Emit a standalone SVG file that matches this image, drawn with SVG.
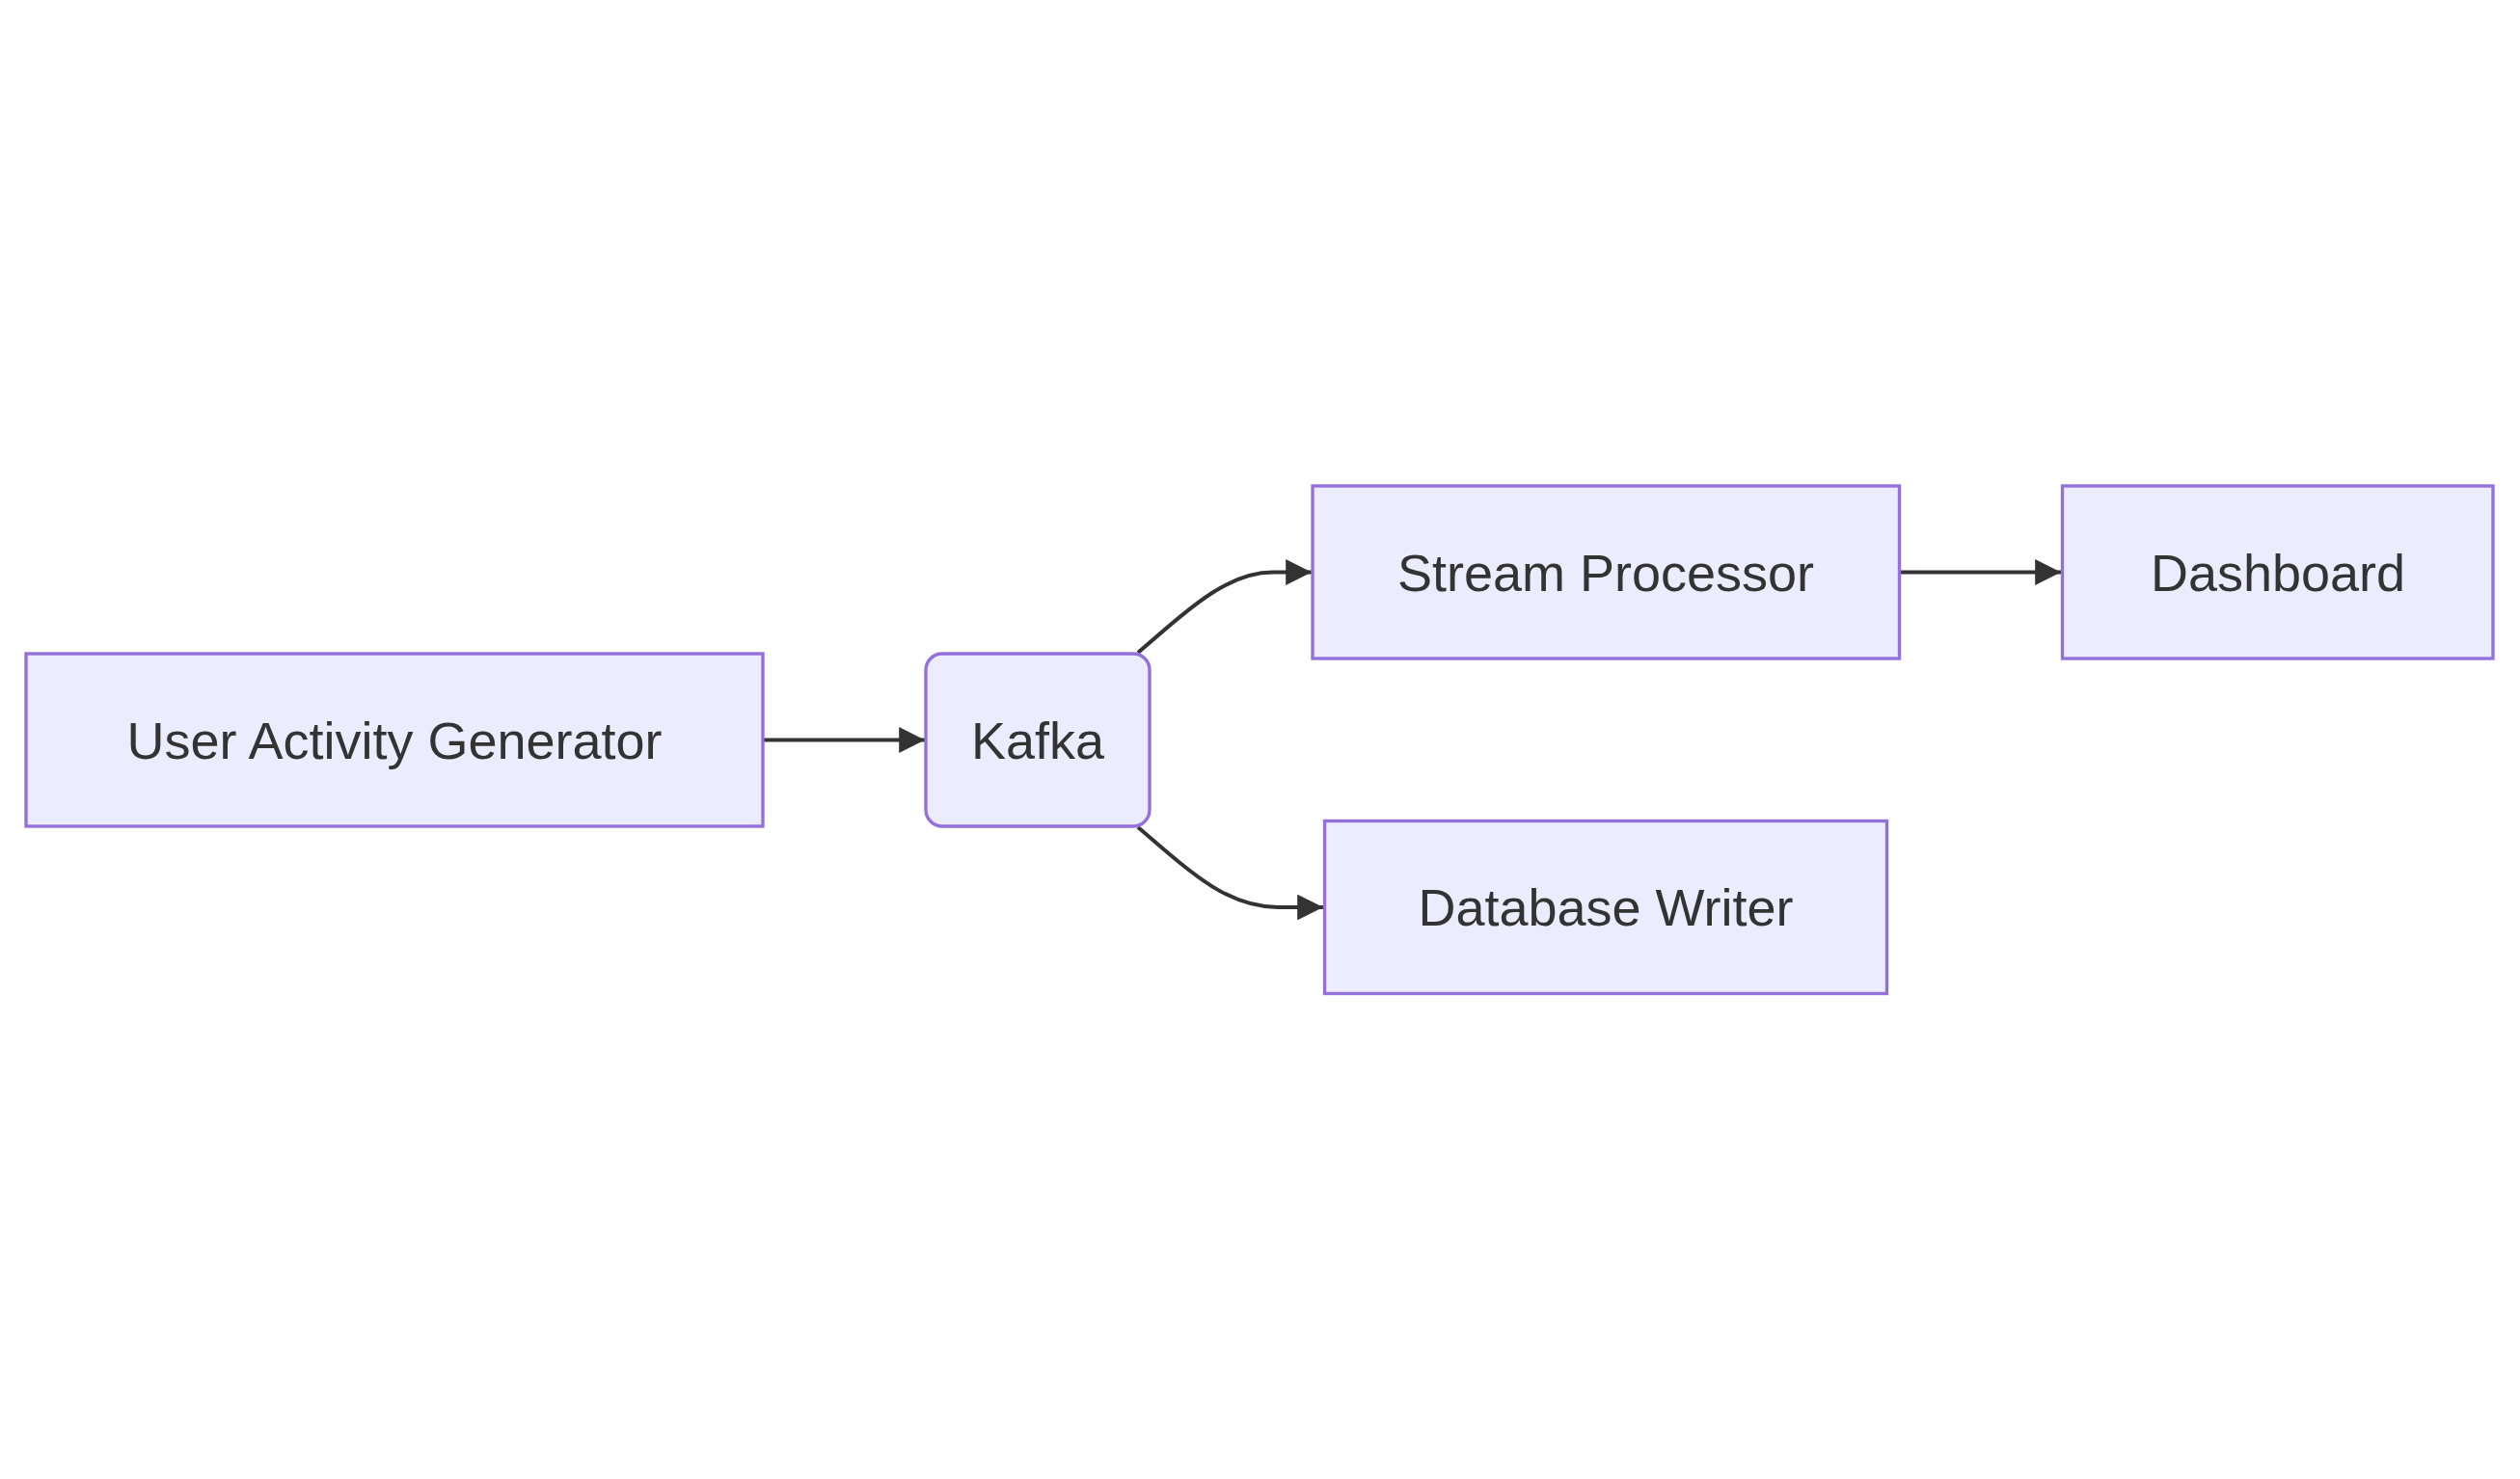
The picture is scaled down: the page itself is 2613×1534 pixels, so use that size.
<svg xmlns="http://www.w3.org/2000/svg" width="2613" height="1534" viewBox="0 0 2613 1534">
<style>
.node rect{fill:#ECECFF;stroke:#9370DB;stroke-width:3.35}
.node text{font-family:"Liberation Sans",Arial,sans-serif;font-size:54px;fill:#333333;text-anchor:middle}
.edge{fill:none;stroke:#333333;stroke-width:4}
</style>
<defs>
<marker id="arrow" viewBox="0 0 10 10" refX="10" refY="5" markerUnits="userSpaceOnUse" markerWidth="26.8" markerHeight="26.8" orient="auto">
<path d="M0,0 L10,5 L0,10 z" fill="#333333"/>
</marker>
</defs>
<rect width="2613" height="1534" fill="#ffffff"/>
<g id="edges">
<path class="edge" d="M791,767.5 L959,767.5" marker-end="url(#arrow)"/>
<path class="edge" d="M1180,677 C1240,625 1275,593.5 1320,593.5 L1360,593.5" marker-end="url(#arrow)"/>
<path class="edge" d="M1180,858 C1240,910 1275,941 1325,941 L1372,941" marker-end="url(#arrow)"/>
<path class="edge" d="M1969.5,593.5 L2137,593.5" marker-end="url(#arrow)"/>
</g>
<g id="node-user" class="node">
<rect x="27" y="678" width="764" height="179"/>
<text x="409" y="786.5">User Activity Generator</text>
</g>
<g id="node-kafka" class="node">
<rect x="960" y="678" width="232" height="179" rx="17" ry="17"/>
<text x="1076" y="786.5">Kafka</text>
</g>
<g id="node-stream" class="node">
<rect x="1361" y="504" width="608.5" height="179"/>
<text x="1665" y="612.5">Stream Processor</text>
</g>
<g id="node-dashboard" class="node">
<rect x="2138.5" y="504" width="446.5" height="179"/>
<text x="2362" y="612.5">Dashboard</text>
</g>
<g id="node-db" class="node">
<rect x="1373.5" y="851.5" width="583" height="179"/>
<text x="1665" y="960">Database Writer</text>
</g>
</svg>
